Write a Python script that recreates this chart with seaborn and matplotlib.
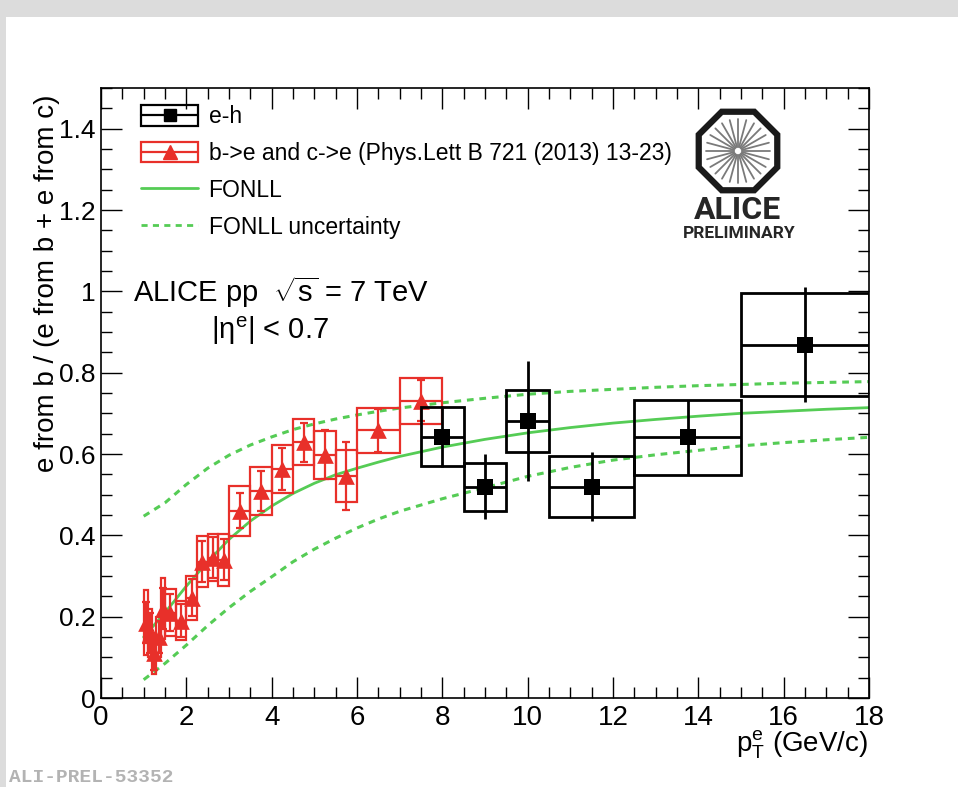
import numpy as np
import pandas as pd
import matplotlib
matplotlib.use("Agg")
import matplotlib.pyplot as plt
import seaborn as sns
from matplotlib.patches import Rectangle, RegularPolygon
from matplotlib.lines import Line2D
from matplotlib.legend_handler import HandlerBase
from matplotlib.ticker import MultipleLocator, FuncFormatter

# ---------------- data ----------------
# FONLL prediction
fonll_pt = [1.0, 1.5, 2.0, 2.5, 3.0, 3.5, 4.0, 4.5, 5.0, 5.5, 6.0, 6.5, 7.0, 8.0, 9.0,
            10.0, 11.0, 12.0, 13.0, 14.0, 15.0, 16.0, 17.0, 18.0]
fonll_central = [0.15, 0.21, 0.275, 0.335, 0.39, 0.435, 0.472, 0.503, 0.528, 0.549, 0.565,
                 0.58, 0.594, 0.617, 0.636, 0.652, 0.665, 0.676, 0.685, 0.693, 0.700,
                 0.705, 0.710, 0.714]
fonll_upper = [0.447, 0.48, 0.525, 0.565, 0.597, 0.622, 0.642, 0.66, 0.674, 0.686, 0.696,
               0.705, 0.713, 0.726, 0.737, 0.747, 0.754, 0.759, 0.764, 0.768, 0.771,
               0.774, 0.776, 0.778]
fonll_lower = [0.045, 0.085, 0.13, 0.178, 0.222, 0.262, 0.298, 0.335, 0.366, 0.393, 0.418,
               0.44, 0.459, 0.49, 0.517, 0.545, 0.567, 0.585, 0.598, 0.609, 0.62,
               0.628, 0.635, 0.641]

# b->e and c->e (Phys.Lett B 721 (2013) 13-23)
red_lo = [1.0, 1.1, 1.2, 1.3, 1.4, 1.5, 1.75, 2.0, 2.25, 2.5, 2.75, 3.0, 3.5, 4.0, 4.5,
          5.0, 5.5, 6.0, 7.0]
red_hi = [1.1, 1.2, 1.3, 1.4, 1.5, 1.75, 2.0, 2.25, 2.5, 2.75, 3.0, 3.5, 4.0, 4.5, 5.0,
          5.5, 6.0, 7.0, 8.0]
red_val = [0.185, 0.16, 0.11, 0.15, 0.22, 0.21, 0.19, 0.247, 0.335, 0.345, 0.34, 0.46,
           0.509, 0.563, 0.629, 0.598, 0.546, 0.658, 0.731]
red_sys = [0.08, 0.06, 0.05, 0.05, 0.075, 0.058, 0.048, 0.054, 0.063, 0.058, 0.064, 0.062,
           0.06, 0.06, 0.057, 0.059, 0.063, 0.056, 0.056]
red_stat = [0.05, 0.05, 0.04, 0.04, 0.05, 0.045, 0.04, 0.045, 0.05, 0.05, 0.05, 0.043,
            0.05, 0.051, 0.048, 0.06, 0.083, 0.052, 0.05]

# e-h correlation
blk_lo = [7.5, 8.5, 9.5, 10.5, 12.5, 15.0]
blk_hi = [8.5, 9.5, 10.5, 12.5, 15.0, 18.0]
blk_x = [8.0, 9.0, 10.0, 11.5, 13.75, 16.5]
blk_val = [0.643, 0.52, 0.681, 0.52, 0.641, 0.869]
blk_sys = [0.072, 0.059, 0.077, 0.075, 0.093, 0.127]
blk_stat = [0.075, 0.081, 0.148, 0.085, 0.092, 0.142]

legend_labels = ["e-h", "b->e and c->e (Phys.Lett B 721 (2013) 13-23)", "FONLL",
                 "FONLL uncertainty"]

# ---------------- style ----------------
sns.set_theme(style="ticks")
plt.rcParams["font.family"] = ["Liberation Sans", "DejaVu Sans"]
plt.rcParams["mathtext.fontset"] = "custom"
plt.rcParams["mathtext.rm"] = "Liberation Sans"
plt.rcParams["mathtext.it"] = "Liberation Sans:italic"
plt.rcParams["mathtext.bf"] = "Liberation Sans:bold"
plt.rcParams["text.color"] = "black"
plt.rcParams["xtick.color"] = "black"
plt.rcParams["ytick.color"] = "black"
plt.rcParams["xtick.labelcolor"] = "black"
plt.rcParams["ytick.labelcolor"] = "black"

RED = "#e8302a"
GREEN = "#55cc55"
BLACK = "#000000"

W, H = 958, 787
fig = plt.figure(figsize=(W / 100, H / 100), dpi=100)
fig.patch.set_facecolor("white")
fig.add_artist(Rectangle((0, 1 - 17 / H), 1, 17 / H, transform=fig.transFigure,
                         facecolor="#dcdcdc", edgecolor="none", zorder=0))
fig.add_artist(Rectangle((0, 0), 6 / W, 1, transform=fig.transFigure,
                         facecolor="#dcdcdc", edgecolor="none", zorder=0))

ax = fig.add_axes([101 / W, 1 - 698 / H, 768 / W, 610 / H])
ax.set_facecolor("white")

# FONLL curves
df_f = pd.DataFrame({"pt": fonll_pt, "c": fonll_central, "u": fonll_upper, "l": fonll_lower})
sns.lineplot(data=df_f, x="pt", y="c", ax=ax, color=GREEN, lw=2.0, zorder=2)
for col in ["u", "l"]:
    sns.lineplot(data=df_f, x="pt", y=col, ax=ax, color=GREEN, lw=2.2, zorder=2,
                 linestyle=(0, (2.2, 1.9)))

# red data
red_x = [(a + b) / 2 for a, b in zip(red_lo, red_hi)]
red_xe = [(b - a) / 2 for a, b in zip(red_lo, red_hi)]
for lo, hi, v, s in zip(red_lo, red_hi, red_val, red_sys):
    ax.add_patch(Rectangle((lo, v - s), hi - lo, 2 * s, fill=False, ec=RED, lw=1.6, zorder=3))
ax.errorbar(red_x, red_val, xerr=red_xe, fmt="none", ecolor=RED, elinewidth=1.6, zorder=3)
ax.errorbar(red_x, red_val, yerr=red_stat, fmt="none", ecolor=RED, elinewidth=1.6,
            capsize=3, capthick=1.6, zorder=3)
sns.scatterplot(x=red_x, y=red_val, ax=ax, marker="^", s=12 ** 2, color=RED,
                edgecolor=RED, linewidth=0, zorder=4)

# black data
blk_xe_lo = [x - a for x, a in zip(blk_x, blk_lo)]
blk_xe_hi = [b - x for x, b in zip(blk_x, blk_hi)]
for lo, hi, v, s in zip(blk_lo, blk_hi, blk_val, blk_sys):
    ax.add_patch(Rectangle((lo, v - s), hi - lo, 2 * s, fill=False, ec=BLACK, lw=2.0, zorder=5))
ax.errorbar(blk_x, blk_val, xerr=[blk_xe_lo, blk_xe_hi], fmt="none", ecolor=BLACK,
            elinewidth=2.0, zorder=5)
ax.errorbar(blk_x, blk_val, yerr=blk_stat, fmt="none", ecolor=BLACK, elinewidth=2.0, zorder=5)
sns.scatterplot(x=blk_x, y=blk_val, ax=ax, marker="s", s=11 ** 2, color=BLACK,
                edgecolor=BLACK, linewidth=0, zorder=6)

# axes
ax.set_xlim(0, 18)
ax.set_ylim(0, 1.5)
ax.set_xlabel("")
ax.set_ylabel("")
ax.xaxis.set_major_locator(MultipleLocator(2))
ax.xaxis.set_minor_locator(MultipleLocator(0.5))
ax.yaxis.set_major_locator(MultipleLocator(0.2))
ax.yaxis.set_minor_locator(MultipleLocator(0.05))
fmt = FuncFormatter(lambda v, p: f"{v:g}")
ax.xaxis.set_major_formatter(fmt)
ax.yaxis.set_major_formatter(fmt)
ax.tick_params(which="both", direction="in", top=True, right=True, colors="black",
               labelcolor="black", width=1.0)
ax.tick_params(which="major", length=15)
ax.tick_params(which="minor", length=8)
ax.tick_params(axis="x", which="major", labelsize=20, pad=5)
ax.tick_params(axis="y", which="major", labelsize=19, pad=4)
for sp in ax.spines.values():
    sp.set_linewidth(1.2)
    sp.set_color("black")
    sp.set_visible(True)

# axis titles
fig.text(47 / W, 1 - 95 / H, "e from b / (e from b + e from c)", rotation=90,
         ha="center", va="top", fontsize=20, color="black")
fig.text(868 / W, 1 - 745 / H, r"$\mathrm{p}_{\mathrm{T}}^{\mathrm{e}}$ (GeV/c)",
         ha="right", va="center", fontsize=20, color="black")

# annotations
ax.text((133 - 101) / 768, (698 - 292) / 610, r"ALICE pp  $\sqrt{\mathrm{s}}$ = 7 TeV",
        transform=ax.transAxes, ha="left", va="center", fontsize=21, color="black")
ax.text((270 - 101) / 768, (698 - 331) / 610, r"|η$^{\mathrm{e}}$| < 0.7",
        transform=ax.transAxes, ha="center", va="center", fontsize=21, color="black")


# legend
class BoxHandler(HandlerBase):
    def __init__(self, color, marker, lw, ms):
        super().__init__()
        self.color, self.marker, self.lw, self.ms = color, marker, lw, ms

    def create_artists(self, legend, orig_handle, xdescent, ydescent, width, height,
                       fontsize, trans):
        x0, y0 = -xdescent, -ydescent
        rect = Rectangle((x0, y0), width, height, fill=False, ec=self.color, lw=self.lw,
                         transform=trans)
        ln = Line2D([x0, x0 + width], [y0 + height / 2] * 2, color=self.color, lw=self.lw,
                    transform=trans)
        mk = Line2D([x0 + width / 2], [y0 + height / 2], marker=self.marker, ms=self.ms,
                    color=self.color, mec=self.color, ls="none", transform=trans)
        return [rect, ln, mk]


h_eh = Line2D([], [], color=BLACK)
h_red = Line2D([], [], color=RED)
h_f = Line2D([], [], color=GREEN, lw=2.0)
h_fu = Line2D([], [], color=GREEN, lw=2.0, linestyle=(0, (2.2, 1.9)))
leg = ax.legend([h_eh, h_red, h_f, h_fu], legend_labels,
                handler_map={h_eh: BoxHandler(BLACK, "s", 1.6, 9),
                             h_red: BoxHandler(RED, "^", 1.6, 10)},
                loc="upper left", bbox_to_anchor=(141 / W, 1 - 105 / H),
                bbox_transform=fig.transFigure, frameon=False, fontsize=16.5,
                handlelength=2.5, handleheight=1.0, handletextpad=0.45,
                labelspacing=0.6, borderpad=0, borderaxespad=0, labelcolor="black")

# ALICE logo
lax = fig.add_axes([(738 - 50) / W, 1 - (151 + 50) / H, 100 / W, 100 / H])
lax.set_xlim(-50, 50)
lax.set_ylim(-50, 50)
lax.axis("off")
lax.add_patch(RegularPolygon((0, 0), numVertices=8, radius=42.5, orientation=np.pi / 8,
                             fill=False, ec="#1a1a1a", lw=4.5))
for ang in np.linspace(0, 2 * np.pi, 24, endpoint=False):
    lax.plot([4 * np.cos(ang), 32 * np.cos(ang)], [4 * np.sin(ang), 32 * np.sin(ang)],
             color="#7a7a7a", lw=1.3)
fig.text(738 / W, 1 - 210 / H, "ALICE", ha="center", va="center", fontsize=23,
         fontweight="bold", family=["Roboto", "DejaVu Sans"], color="#262626")
fig.text(739 / W, 1 - 233 / H, "PRELIMINARY", ha="center", va="center", fontsize=12.5,
         fontweight="bold", family=["Roboto", "DejaVu Sans"], color="#262626")

fig.text(9 / W, 1 - 778 / H, "ALI-PREL-53352", ha="left", va="center", fontsize=14,
         fontweight="bold", family=["Liberation Mono", "DejaVu Sans Mono"], color="#b3b3b3")

fig.savefig("out.png", dpi=100, facecolor="white")
